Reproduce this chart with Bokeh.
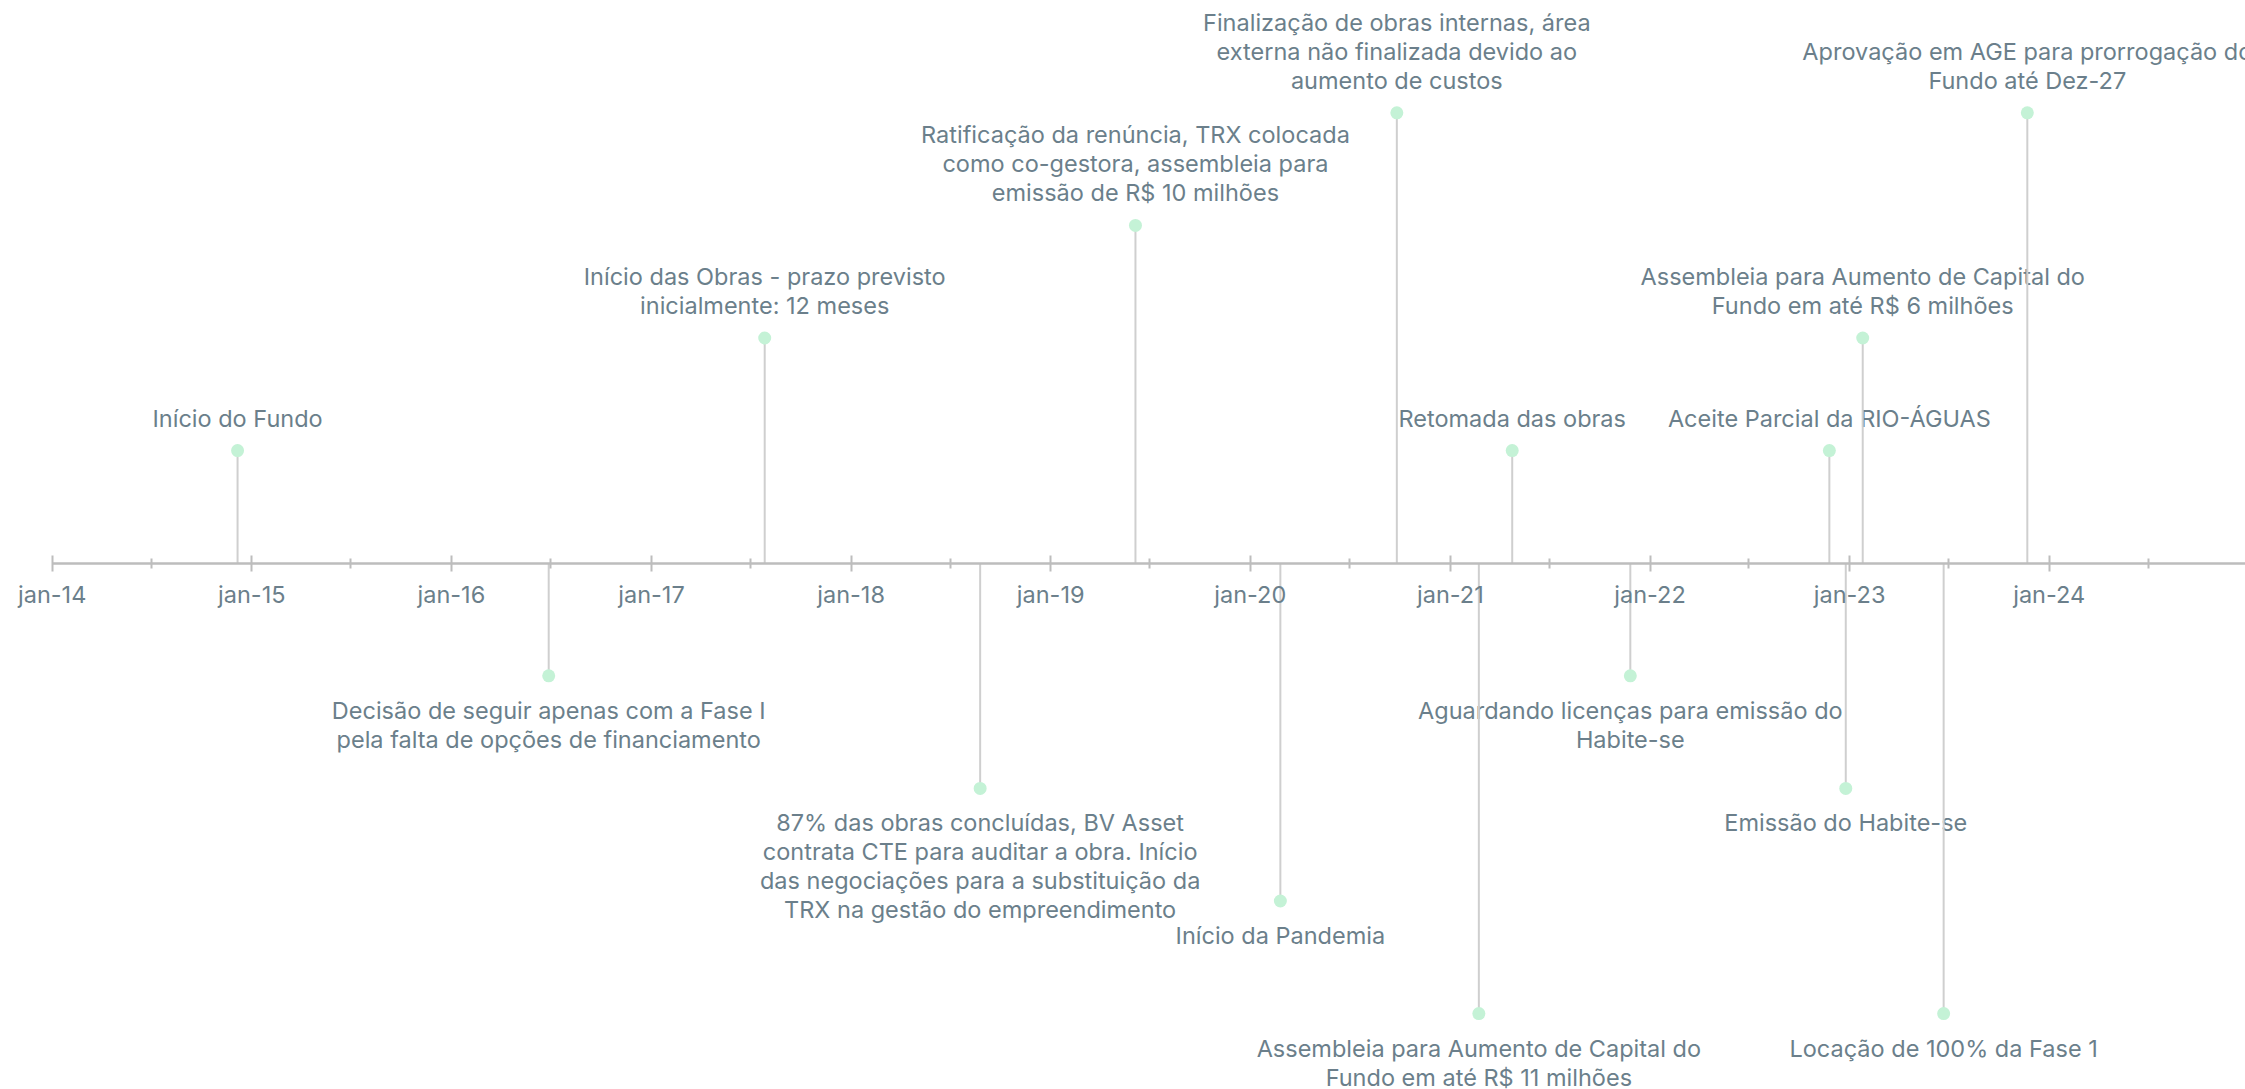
import pandas as pd
from bokeh.plotting import figure
from bokeh.models import ColumnDataSource, Range1d, FixedTicker
from bokeh.core.properties import value
from bokeh.embed import file_html
from bokeh.resources import INLINE

# ---------------- data ----------------
event_dates = ["2014-12-06", "2016-06-27", "2017-07-27", "2018-08-25", "2019-06-05",
               "2020-02-25", "2020-09-25", "2021-02-22", "2021-04-24", "2021-11-26",
               "2022-11-25", "2022-12-25", "2023-01-25", "2023-06-22", "2023-11-22"]
event_levels = [1, -1, 2, -2, 3, -3, 4, -4, 1, -1, 1, -2, 2, -4, 4]
event_labels = [
    "Início do Fundo",
    "Decisão de seguir apenas com a Fase I\npela falta de opções de financiamento",
    "Início das Obras - prazo previsto\ninicialmente: 12 meses",
    "87% das obras concluídas, BV Asset\ncontrata CTE para auditar a obra. Início\ndas negociações para a substituição da\nTRX na gestão do empreendimento",
    "Ratificação da renúncia, TRX colocada\ncomo co-gestora, assembleia para\nemissão de R$ 10 milhões",
    "Início da Pandemia",
    "Finalização de obras internas, área\nexterna não finalizada devido ao\naumento de custos",
    "Assembleia para Aumento de Capital do\nFundo em até R$ 11 milhões",
    "Retomada das obras",
    "Aguardando licenças para emissão do\nHabite-se",
    "Aceite Parcial da RIO-ÁGUAS",
    "Emissão do Habite-se",
    "Assembleia para Aumento de Capital do\nFundo em até R$ 6 milhões",
    "Locação de 100% da Fase 1",
    "Aprovação em AGE para prorrogação do\nFundo até Dez-27",
]
tick_dates = ["2014-01-01", "2015-01-01", "2016-01-01", "2017-01-01", "2018-01-01", "2019-01-01",
              "2020-01-01", "2021-01-01", "2022-01-01", "2023-01-01", "2024-01-01", "2025-01-01"]
tick_labels = ["jan-14", "jan-15", "jan-16", "jan-17", "jan-18", "jan-19",
               "jan-20", "jan-21", "jan-22", "jan-23", "jan-24", "jan-25"]
minor_tick_dates = ["2014-07-01", "2015-07-01", "2016-07-01", "2017-07-01", "2018-07-01",
                    "2019-07-01", "2020-07-01", "2021-07-01", "2022-07-01", "2023-07-01",
                    "2024-07-01"]

# ---------------- styling ----------------
W, H = 2245, 1089
TEXT_COLOR = "#6b7f8b"
DOT_COLOR = "#c4f2d6"
STEM_COLOR = "#cfcfcf"
AXIS_COLOR = "#bdbdbd"
FONT = "Inter"
FS = "23.5px"

px_per_day = 0.54682
origin = pd.Timestamp("2014-01-01")
left_px = 51.7
x_start = origin - pd.Timedelta(days=left_px / px_per_day)
x_end = origin + pd.Timedelta(days=(W - left_px) / px_per_day)

axis_y_px = 562.7
unit_px = 112.6
y_end = axis_y_px / unit_px
y_start = -(H - axis_y_px) / unit_px

def ms(d):
    return float(pd.Timestamp(d).value // 10**6)

dates = pd.to_datetime(event_dates)
src = ColumnDataSource(dict(
    x=dates,
    y=event_levels,
    y0=[0] * len(event_levels),
    label=event_labels,
))
up_idx = [i for i, l in enumerate(event_levels) if l > 0]
dn_idx = [i for i, l in enumerate(event_levels) if l < 0]
up = ColumnDataSource(dict(x=[dates[i] for i in up_idx], y=[event_levels[i] for i in up_idx],
                           label=[event_labels[i] for i in up_idx]))
dn = ColumnDataSource(dict(x=[dates[i] for i in dn_idx], y=[event_levels[i] for i in dn_idx],
                           label=[event_labels[i] for i in dn_idx]))

p = figure(width=W, height=H, x_axis_type="datetime", output_backend="svg",
           toolbar_location=None, min_border=0,
           x_range=Range1d(x_start, x_end), y_range=Range1d(y_start, y_end))
p.outline_line_color = None
p.grid.visible = False
p.yaxis.visible = False
p.background_fill_color = "white"
p.border_fill_color = "white"

ax = p.xaxis[0]
ax.fixed_location = 0
ax.bounds = (ms("2014-01-01"), ms(x_end))
ax.ticker = FixedTicker(ticks=[ms(d) for d in tick_dates],
                        minor_ticks=[ms(d) for d in minor_tick_dates])
ax.major_label_overrides = {ms(d): lab for d, lab in zip(tick_dates, tick_labels)}
ax.axis_line_color = AXIS_COLOR
ax.axis_line_width = 2.5
ax.major_tick_line_color = AXIS_COLOR
ax.major_tick_line_width = 2
ax.major_tick_in = 8
ax.major_tick_out = 8
ax.minor_tick_line_color = AXIS_COLOR
ax.minor_tick_line_width = 2
ax.minor_tick_in = 5
ax.minor_tick_out = 5
ax.major_label_text_font = FONT
ax.major_label_text_font_size = FS
ax.major_label_text_color = TEXT_COLOR
ax.major_label_standoff = 9

# labels
p.text(x="x", y="y", text="label", source=up, text_align="center", text_baseline="bottom",
       y_offset=-18, text_font=value(FONT), text_font_size=FS, text_color=TEXT_COLOR,
       text_line_height=1.0)
p.text(x="x", y="y", text="label", source=dn, text_align="center", text_baseline="top",
       y_offset=20, text_font=value(FONT), text_font_size=FS, text_color=TEXT_COLOR,
       text_line_height=1.0)

# stems and dots
p.segment(x0="x", y0="y0", x1="x", y1="y", source=src, line_color=STEM_COLOR, line_width=2)
p.scatter(x="x", y="y", source=src, size=13, fill_color=DOT_COLOR, line_color=None)

open("out.html", "w").write(file_html(p, INLINE))
